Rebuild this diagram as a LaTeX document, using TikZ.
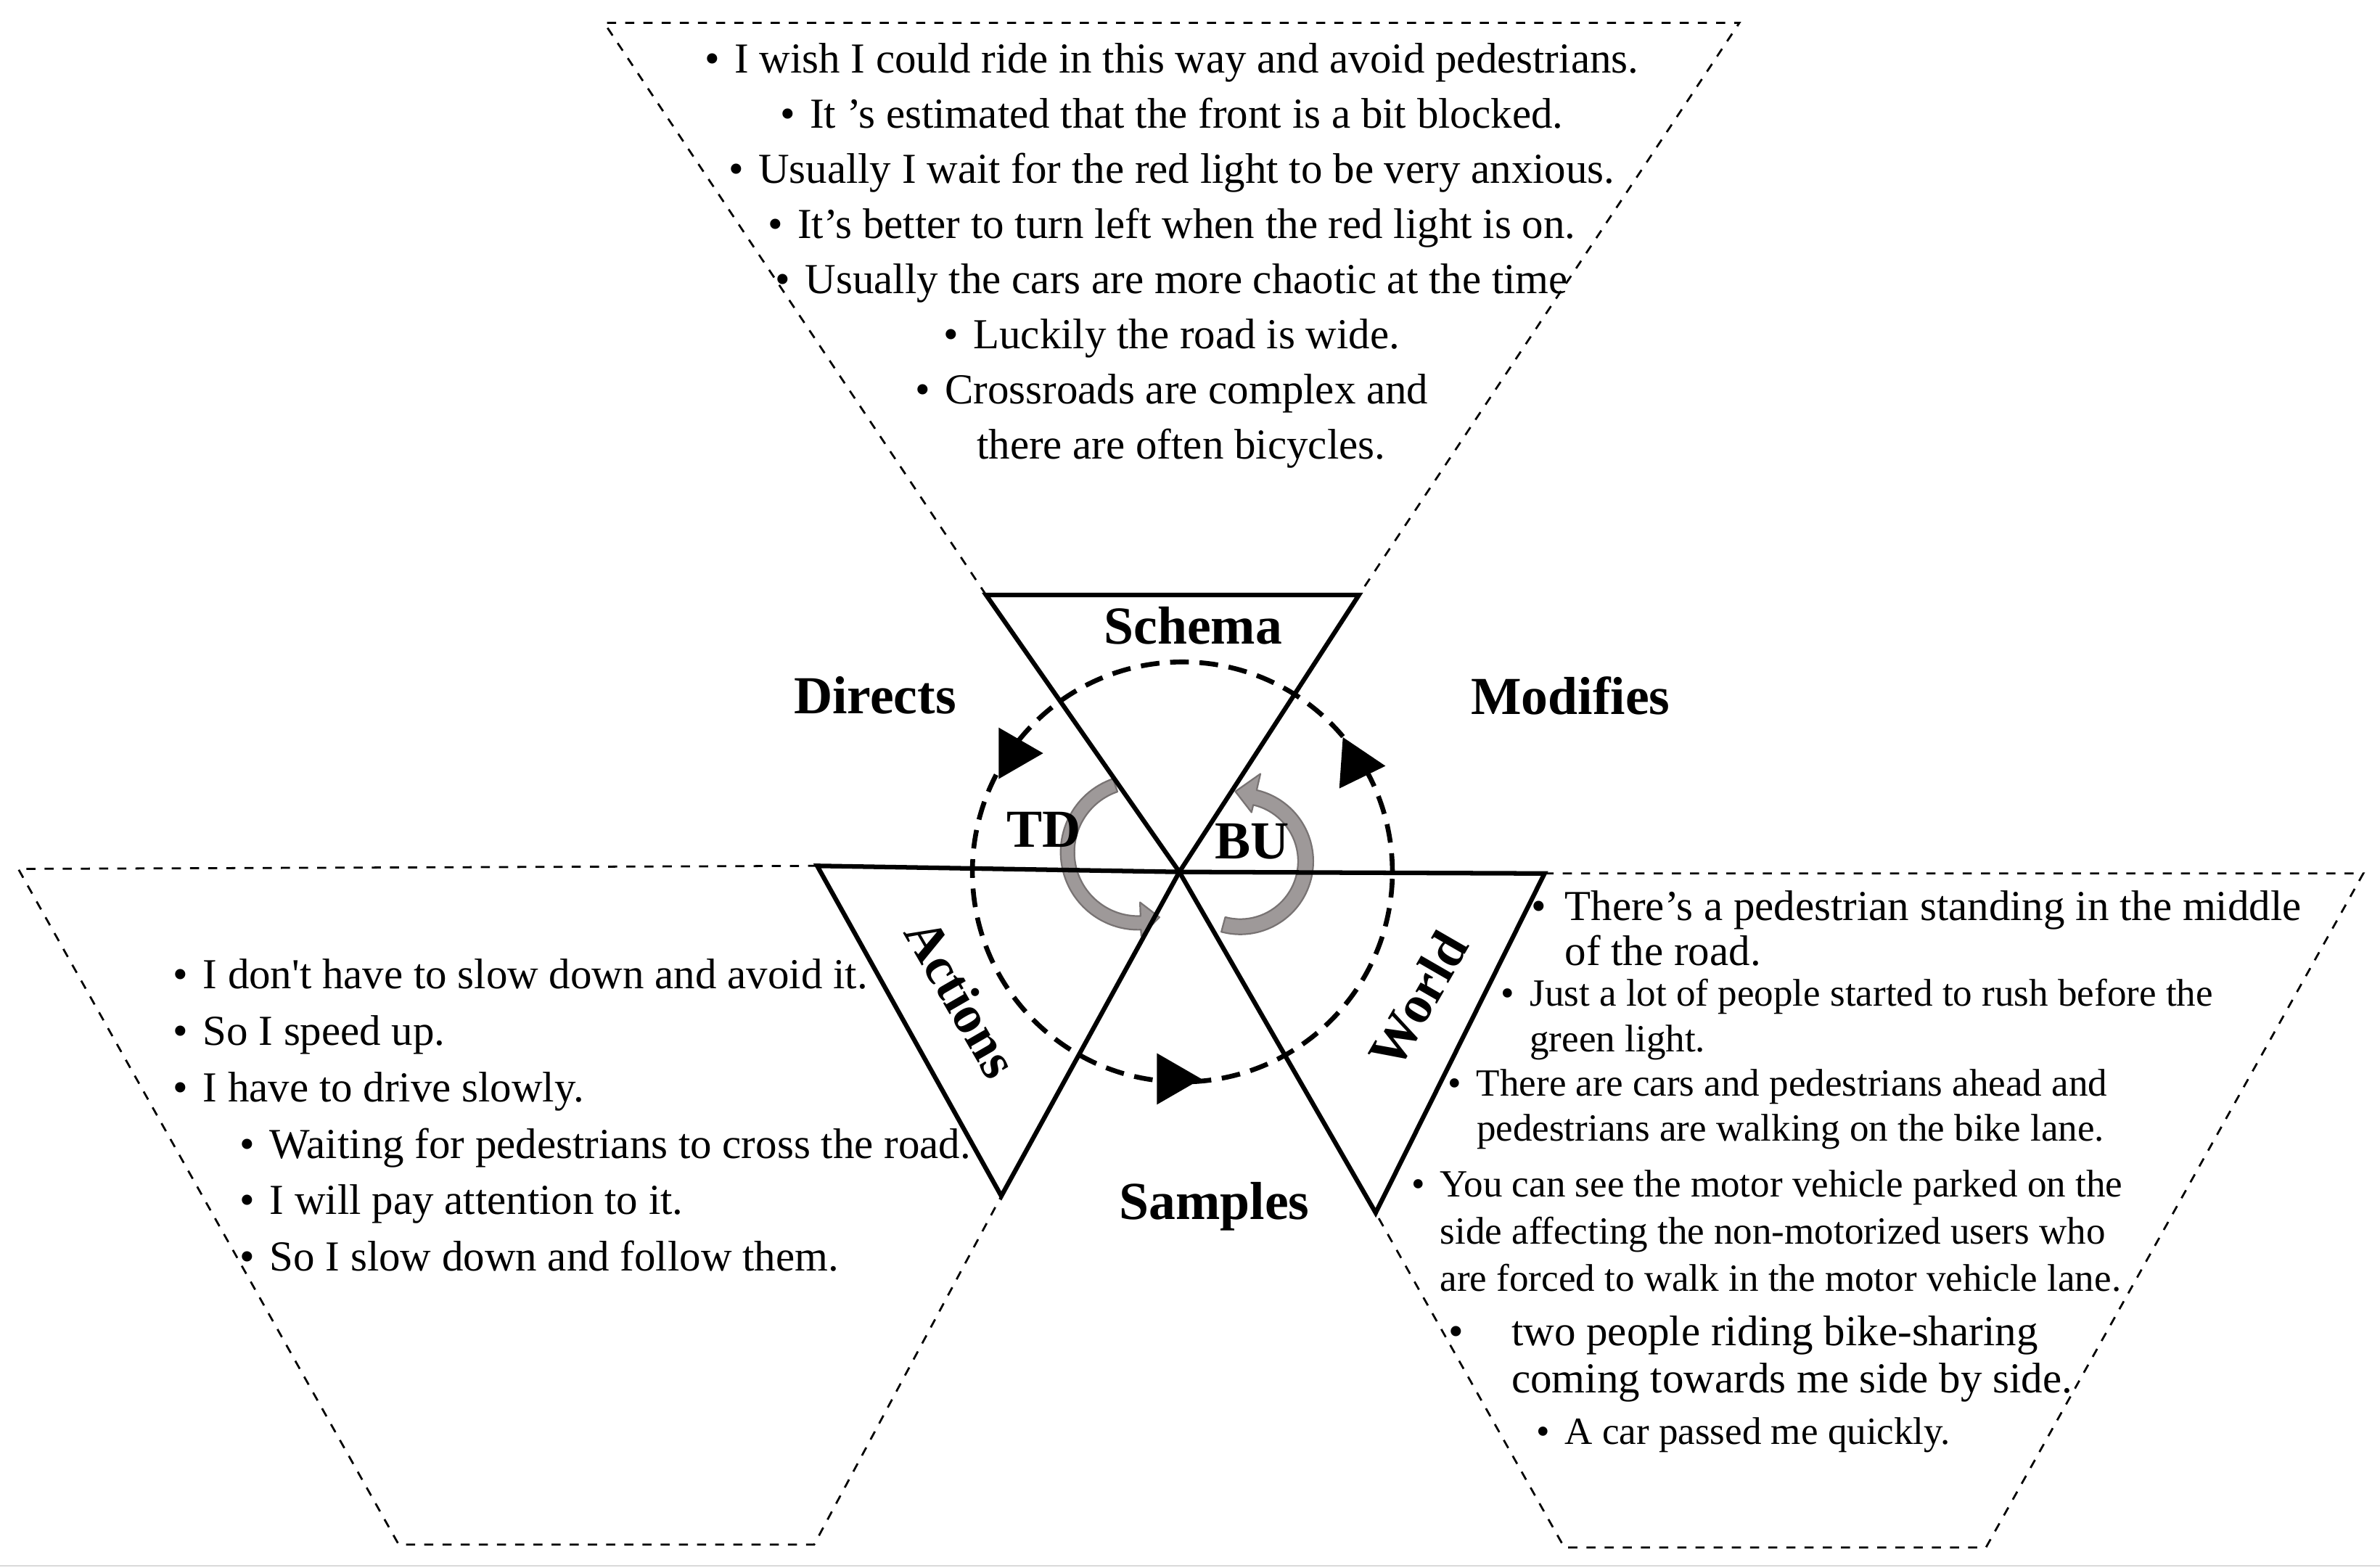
\documentclass[tikz,border=0pt]{standalone}
\usepackage{fontspec}
\setmainfont{Liberation Serif}
\usetikzlibrary{arrows.meta,shapes.geometric}

\definecolor{arrowgray}{RGB}{158,153,153}
\definecolor{arrowedge}{RGB}{120,115,115}
\newcommand{\bul}[1][5.7pt]{\makebox[0pt][r]{\textbullet\hspace{#1}}}

\begin{document}
\begin{tikzpicture}[x=0.02cm,y=0.02cm,
  tri/.style={line width=1.7pt,line join=miter},
  framedash/.style={line width=0.75pt,dash pattern=on 3.4pt off 3.4pt},
  ring/.style={line width=1.8pt,dash pattern=on 7pt off 4pt},
  headtri/.style={regular polygon,regular polygon sides=3,fill=black,inner sep=0pt,minimum size=0.78cm},
  grayblock/.style={fill=arrowgray,draw=arrowedge,line width=0.6pt,line join=round},
  lbl/.style={font=\fontsize{20}{24}\selectfont\bfseries,inner sep=0pt},
  txt/.style={font=\fontsize{16}{20.6}\selectfont,inner sep=0pt},
  small/.style={font=\fontsize{14.4}{17}\selectfont,inner sep=0pt,align=left,anchor=west}]

  \useasboundingbox (0,0) rectangle (1564,-1030);
  \draw[gray!30,line width=0.6pt] (0,-1029) -- (1564,-1029);

  % corners
  \coordinate (hub) at (775,-573);
  \coordinate (sa) at (648,-391);
  \coordinate (sb) at (893,-391);
  \coordinate (aa) at (537,-569);
  \coordinate (ab) at (658,-786);
  \coordinate (wa) at (1015,-574);
  \coordinate (wb) at (904,-797);
  \coordinate (tdc) at (748,-560);
  \coordinate (buc) at (815,-566);

  % dashed frames
  \draw[framedash] (sa) -- (397,-15) -- (1143,-15) -- (sb);
  \draw[framedash] (aa) -- (12,-571) -- (262,-1015) -- (535,-1015) -- (ab);
  \draw[framedash] (wa) -- (1553,-574) -- (1305,-1017) -- (1028,-1017) -- (wb);

  % TD / BU
  \filldraw[grayblock] ([shift={(109:51)}]tdc) arc[start angle=109,end angle=272,radius=51]
    -- ([shift={(272:55)}]tdc) -- ([shift={(288:45)}]tdc) -- ([shift={(272:33)}]tdc)
    -- ([shift={(272:42)}]tdc) arc[start angle=272,end angle=109,radius=42] -- cycle;
  \filldraw[grayblock] ([shift={(255:48)}]buc) arc[start angle=255,end angle=437,radius=48]
    -- ([shift={(437:59)}]buc) -- ([shift={(454:46)}]buc) -- ([shift={(437:33)}]buc)
    -- ([shift={(437:38)}]buc) arc[start angle=437,end angle=255,radius=38] -- cycle;

  \draw[tri] (sa) -- (sb) -- (hub) -- cycle;
  \draw[tri] (aa) -- (hub) -- (ab) -- cycle;
  \draw[tri] (hub) -- (wa) -- (wb) -- cycle;

  \draw[ring] (777,-573) circle[radius=138];
  \node[headtri,rotate=-90] (dirhead) at (666,-495) {};
  \node[headtri,rotate=-94] (modhead) at (891,-502) {};
  \node[headtri,rotate=-90] (samhead) at (770,-709) {};

  \node[lbl] (schema) at (784,-411) {Schema};
  \node[lbl,rotate=-60] (actions) at (632,-656) {Actions};
  \node[lbl,rotate=60] (world) at (932,-657) {World};
  \node[lbl] (directs) at (575,-457) {Directs};
  \node[lbl] (modifies) at (1032,-457) {Modifies};
  \node[lbl] (samples) at (798,-793) {Samples};
  \node[lbl] (td) at (686,-545) {TD};
  \node[lbl] (bu) at (823,-553) {BU};

  \node[txt,align=center] (schemalist) at (770,-168) {%
    \textbullet\hspace{5.5pt}I wish I could ride in this way and avoid pedestrians.\\
    \textbullet\hspace{5.5pt}It ’s estimated that the front is a bit blocked.\\
    \textbullet\hspace{5.5pt}Usually I wait for the red light to be very anxious.\\
    \textbullet\hspace{5.5pt}It’s better to turn left when the red light is on.\\
    \textbullet\hspace{5.5pt}Usually the cars are more chaotic at the time\\
    \textbullet\hspace{5.5pt}Luckily the road is wide.\\
    \textbullet\hspace{5.5pt}Crossroads are complex and\\
    \hspace*{7pt}there are often bicycles.};

  \node[txt,font=\fontsize{16}{21.1}\selectfont,align=left,anchor=west] (actionlist) at (133,-733) {%
    \bul I don\textquotesingle t have to slow down and avoid it.\\
    \bul So I speed up.\\
    \bul I have to drive slowly.\\
    \hspace*{25pt}\bul Waiting for pedestrians to cross the road.\\
    \hspace*{25pt}\bul I will pay attention to it.\\
    \hspace*{25pt}\bul So I slow down and follow them.};

  \node[small,font=\fontsize{16}{17}\selectfont] (w1) at (1028,-610) {\bul[7pt]There’s a pedestrian standing in the middle\\of the road.};
  \node[small] (w2) at (1005,-670) {\bul Just a lot of people started to rush before the\\green light.};
  \node[small] (w3) at (970,-729) {\bul There are cars and pedestrians ahead and\\pedestrians are walking on the bike lane.};
  \node[small,font=\fontsize{14.4}{17.6}\selectfont] (w4) at (946,-809) {\bul You can see the motor vehicle parked on the\\side affecting the non-motorized users who\\are forced to walk in the motor vehicle lane.};
  \node[small,font=\fontsize{16}{17.6}\selectfont] (w5) at (993,-893) {\bul[18pt]two people riding bike-sharing\\coming towards me side by side.};
  \node[small] (w6) at (1028,-943) {\bul A car passed me quickly.};
\end{tikzpicture}
\end{document}
